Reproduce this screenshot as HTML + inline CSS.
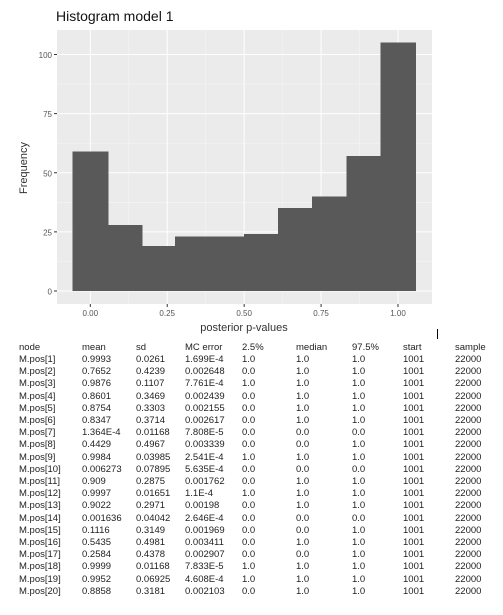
<!DOCTYPE html>
<html><head><meta charset="utf-8"><style>
body{margin:0;width:503px;height:615px;background:#fff;overflow:hidden;position:relative;font-family:"Liberation Sans",Arial,sans-serif}
.c{position:absolute;font-size:9.5px;color:#222;white-space:nowrap;line-height:11px}
</style></head><body>
<svg width="503" height="340" style="position:absolute;left:0;top:0" font-family="Liberation Sans, Arial, sans-serif">
<text x="56" y="21" font-size="14" fill="#111">Histogram model 1</text>
<rect x="57" y="30" width="375" height="274" fill="#ebebeb"/>
<g id="grid"></g><g id="bars" shape-rendering="crispEdges"></g><g id="axes"></g>
<text transform="translate(27,168) rotate(-90)" text-anchor="middle" font-size="11" fill="#333">Frequency</text>
<text x="244" y="331" text-anchor="middle" font-size="11" fill="#333">posterior p-values</text>
<line x1="437.5" y1="329" x2="437.5" y2="339" stroke="#000" stroke-width="1"/>
</svg>
<div id="tbl"></div>
<script>
const binMids=[0,0.111,0.222,0.333,0.444,0.556,0.667,0.778,0.889,1.0];
const counts=[59,28,19,23,23,24,35,40,57,105];
const yTicks=[0,25,50,75,100];
const xTicks=[0,0.25,0.5,0.75,1.0];
const xTickLabels=["0.00","0.25","0.50","0.75","1.00"];
const binWidth=0.1111;
const NS="http://www.w3.org/2000/svg";
function X(v){return 90.3+v*307.7;}
function Y(v){return 291-v*2.365;}
function mk(t,a,p){const e=document.createElementNS(NS,t);for(const k in a)e.setAttribute(k,a[k]);p.appendChild(e);return e;}
const grid=document.getElementById('grid'),bars=document.getElementById('bars'),axes=document.getElementById('axes');
for(let i=0;i<yTicks.length;i++){const y=Y(yTicks[i]);
 const l=mk('line',{x1:57,x2:432,y1:y,y2:y,stroke:'#fff','stroke-width':1},grid);
 
 if(i<yTicks.length-1){const m=mk('line',{x1:57,x2:432,y1:Y(yTicks[i]+12.5),y2:Y(yTicks[i]+12.5),stroke:'#f5f5f5','stroke-width':0.6},grid);
  }
 const t=mk('text',{x:52,y:y+3.5,'text-anchor':'end','font-size':8,fill:'#555'},axes);t.textContent=yTicks[i];
 
 mk('line',{x1:54,x2:57,y1:y,y2:y,stroke:'#333'},axes);}
for(let i=0;i<xTicks.length;i++){const x=X(xTicks[i]);
 const l=mk('line',{x1:x,x2:x,y1:30,y2:304,stroke:'#fff','stroke-width':1},grid);
 
 if(i<xTicks.length-1){const m=mk('line',{x1:X(xTicks[i]+0.125),x2:X(xTicks[i]+0.125),y1:30,y2:304,stroke:'#f5f5f5','stroke-width':0.6},grid);
  }
 const t=mk('text',{x:x,y:316,'text-anchor':'middle','font-size':8,fill:'#555'},axes);t.textContent=xTickLabels[i];
 
 mk('line',{x1:x,x2:x,y1:304,y2:307,stroke:'#333'},axes);}
for(let i=0;i<counts.length;i++){const x0=X(binMids[i]-binWidth/2),x1=X(binMids[i]+binWidth/2);
 const r=mk('rect',{x:x0-0.5,y:Y(counts[i]),width:x1-x0+1.5,height:Y(0)-Y(counts[i]),fill:'#595959'},bars);
 }
const header=["node","mean","sd","MC error","2.5%","median","97.5%","start","sample"];
const rows=[
["M.pos[1]","0.9993","0.0261","1.699E-4","1.0","1.0","1.0","1001","22000"],
["M.pos[2]","0.7652","0.4239","0.002648","0.0","1.0","1.0","1001","22000"],
["M.pos[3]","0.9876","0.1107","7.761E-4","1.0","1.0","1.0","1001","22000"],
["M.pos[4]","0.8601","0.3469","0.002439","0.0","1.0","1.0","1001","22000"],
["M.pos[5]","0.8754","0.3303","0.002155","0.0","1.0","1.0","1001","22000"],
["M.pos[6]","0.8347","0.3714","0.002617","0.0","1.0","1.0","1001","22000"],
["M.pos[7]","1.364E-4","0.01168","7.808E-5","0.0","0.0","0.0","1001","22000"],
["M.pos[8]","0.4429","0.4967","0.003339","0.0","0.0","1.0","1001","22000"],
["M.pos[9]","0.9984","0.03985","2.541E-4","1.0","1.0","1.0","1001","22000"],
["M.pos[10]","0.006273","0.07895","5.635E-4","0.0","0.0","0.0","1001","22000"],
["M.pos[11]","0.909","0.2875","0.001762","0.0","1.0","1.0","1001","22000"],
["M.pos[12]","0.9997","0.01651","1.1E-4","1.0","1.0","1.0","1001","22000"],
["M.pos[13]","0.9022","0.2971","0.00198","0.0","1.0","1.0","1001","22000"],
["M.pos[14]","0.001636","0.04042","2.646E-4","0.0","0.0","0.0","1001","22000"],
["M.pos[15]","0.1116","0.3149","0.001969","0.0","0.0","1.0","1001","22000"],
["M.pos[16]","0.5435","0.4981","0.003411","0.0","1.0","1.0","1001","22000"],
["M.pos[17]","0.2584","0.4378","0.002907","0.0","0.0","1.0","1001","22000"],
["M.pos[18]","0.9999","0.01168","7.833E-5","1.0","1.0","1.0","1001","22000"],
["M.pos[19]","0.9952","0.06925","4.608E-4","1.0","1.0","1.0","1001","22000"],
["M.pos[20]","0.8858","0.3181","0.002103","0.0","1.0","1.0","1001","22000"]];
const colX=[19,82,136,185,242,296,352,403,455];
const tbl=document.getElementById('tbl');
function cell(txt,x,y,name){const d=document.createElement('div');d.className='c';d.style.left=x+'px';d.style.top=y+'px';d.textContent=txt;
 
 
 tbl.appendChild(d);}
header.forEach((h,j)=>cell(h,colX[j],342,'table-header-cell'));
rows.forEach((r,i)=>r.forEach((v,j)=>cell(v,colX[j],354+i*12.2,'table-cell')));
</script>
</body></html>
